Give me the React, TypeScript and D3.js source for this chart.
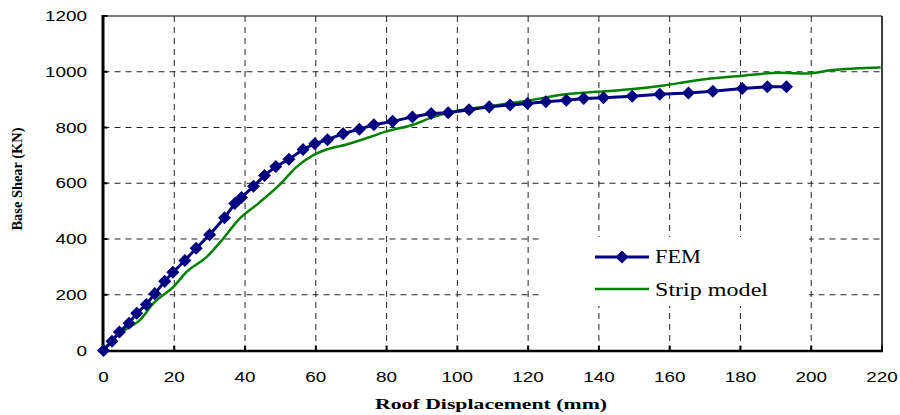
import * as d3 from "d3";

// FEM pushover curve (roof displacement mm, base shear kN)
const femDisp = [0, 2.4, 4.5, 7.2, 9.4, 12.1, 14.5, 17.3, 19.6, 23, 26.2, 30, 34.2, 37.1, 39, 42.4, 45.5, 48.7, 52.4, 56.4, 59.7, 63.3, 67.7, 72.3, 76.4, 81.7, 87.3, 92.6, 97.4, 103.3, 109, 114.9, 119.8, 125, 130.8, 135.7, 141.3, 149.4, 157.2, 165.3, 172.2, 180.5, 187.6, 193];
const femShear = [0, 33, 66, 98, 134, 165, 204, 248, 281, 323, 367, 415, 476, 527, 549, 589, 628, 660, 686, 721, 742, 756, 778, 794, 810, 822, 838, 850, 853, 864, 874, 881, 886, 892, 898, 904, 907, 912, 919, 924, 930, 940, 946, 946];

// strip model curve
const stripDisp = [0, 2.6, 7.4, 10.2, 14, 20.1, 23.4, 29.1, 33.8, 38, 43.7, 49.8, 54.5, 59.2, 63, 68.7, 75.3, 80, 87.5, 93.2, 100, 111, 120.6, 130, 139.5, 148.9, 158.3, 165, 170, 180, 191.3, 198.9, 205.5, 219.6];
const stripShear = [0, 42, 84, 108, 168, 233, 281, 335, 401, 467, 527, 595, 658, 700, 721, 739, 766, 786, 810, 838, 860, 880, 898, 918, 928, 937, 951, 964, 973, 985, 996, 994, 1005, 1015];

const xTicks = [0, 20, 40, 60, 80, 100, 120, 140, 160, 180, 200, 220];
const yTicks = [0, 200, 400, 600, 800, 1000, 1200];

const W = 900;
const H = 415;
const left = 103.5, right = 882, top = 16, bottom = 350.5;

export default function App() {
  const x = d3.scaleLinear().domain([0, 220]).range([left, right]);
  const y = d3.scaleLinear().domain([0, 1200]).range([bottom, top]);

  const fem = femDisp.map((d, i) => [d, femShear[i]] as [number, number]);
  const strip = stripDisp.map((d, i) => [d, stripShear[i]] as [number, number]);

  const straight = d3.line<[number, number]>().x(d => x(d[0])).y(d => y(d[1]));
  const smooth = d3.line<[number, number]>().x(d => x(d[0])).y(d => y(d[1])).curve(d3.curveMonotoneX);
  const diamond = d3.symbol().type(d3.symbolSquare).size(85)() as string;

  const sans = "'Liberation Sans', Arial, sans-serif";
  const serif = "'Liberation Serif', 'Times New Roman', serif";

  return (
    <svg width={W} height={H} style={{ position: "absolute", left: 0, top: 0, background: "#fff" }}>
      {/* grid */}
      <g stroke="#222" strokeWidth={1} strokeDasharray="6,5">
        {xTicks.filter(t => t > 0 && t < 220).map(t => (
          <line key={"gx" + t} x1={x(t)} x2={x(t)} y1={top} y2={bottom} />
        ))}
        {yTicks.filter(t => t > 0 && t < 1200).map(t => (
          <line key={"gy" + t} x1={left} x2={right} y1={y(t)} y2={y(t)} />
        ))}
      </g>

      {/* legend box hides grid */}
      <rect x={543} y={237} width={266} height={69} fill="#fff" />

      {/* frame */}
      <line x1={left} x2={right} y1={top} y2={top} stroke="#000" strokeWidth={1.2} />
      <line x1={right} x2={right} y1={top} y2={bottom} stroke="#000" strokeWidth={1.5} />
      <line x1={left} x2={right + 1} y1={bottom + 0.5} y2={bottom + 0.5} stroke="#000" strokeWidth={2.5} />
      <line x1={left - 0.5} x2={left - 0.5} y1={top - 1} y2={bottom + 1.5} stroke="#000" strokeWidth={3} />

      {/* ticks */}
      {xTicks.map(t => (
        <line key={"tx" + t} x1={x(t)} x2={x(t)} y1={bottom} y2={bottom - 5} stroke="#000" strokeWidth={2} />
      ))}
      {yTicks.map(t => (
        <line key={"ty" + t} x1={left} x2={left + 4} y1={y(t)} y2={y(t)} stroke="#000" strokeWidth={2} />
      ))}

      {/* tick labels */}
      {xTicks.map(t => (
        <text key={"lx" + t} x={x(t)} y={382} textAnchor="middle" fontFamily={sans} fontSize={14}
          textLength={String(t).length * 10.5} lengthAdjust="spacingAndGlyphs">{t}</text>
      ))}
      {yTicks.map(t => (
        <text key={"ly" + t} x={87} y={y(t) + 5} textAnchor="end" fontFamily={sans} fontSize={14}
          textLength={String(t).length * 10.5} lengthAdjust="spacingAndGlyphs">{t}</text>
      ))}

      {/* axis titles */}
      <text x={491} y={409} textAnchor="middle" fontFamily={serif} fontWeight="bold" fontSize={14}
        textLength={232} lengthAdjust="spacingAndGlyphs">Roof Displacement (mm)</text>
      <text transform="translate(22,179) rotate(-90)" textAnchor="middle" fontFamily={serif} fontWeight="bold" fontSize={14}
        textLength={103} lengthAdjust="spacingAndGlyphs">Base Shear (KN)</text>

      {/* series */}
      <path d={smooth(strip) || ""} fill="none" stroke="#008000" strokeWidth={2.5} />
      <path d={straight(fem) || ""} fill="none" stroke="#000080" strokeWidth={3} />
      {fem.map((d, i) => (
        <path key={"m" + i} d={diamond} transform={`translate(${x(d[0])},${y(d[1])}) rotate(45)`} fill="#000080" />
      ))}

      {/* legend */}
      <line x1={595} x2={649} y1={257} y2={257} stroke="#000080" strokeWidth={3} />
      <path d={diamond} transform="translate(622,257) rotate(45)" fill="#000080" />
      <text x={655} y={263} fontFamily={serif} fontSize={18} textLength={46} lengthAdjust="spacingAndGlyphs">FEM</text>
      <line x1={595} x2={649} y1={289} y2={289} stroke="#008000" strokeWidth={2.5} />
      <text x={655} y={296} fontFamily={serif} fontSize={18} textLength={113} lengthAdjust="spacingAndGlyphs">Strip model</text>
    </svg>
  );
}
